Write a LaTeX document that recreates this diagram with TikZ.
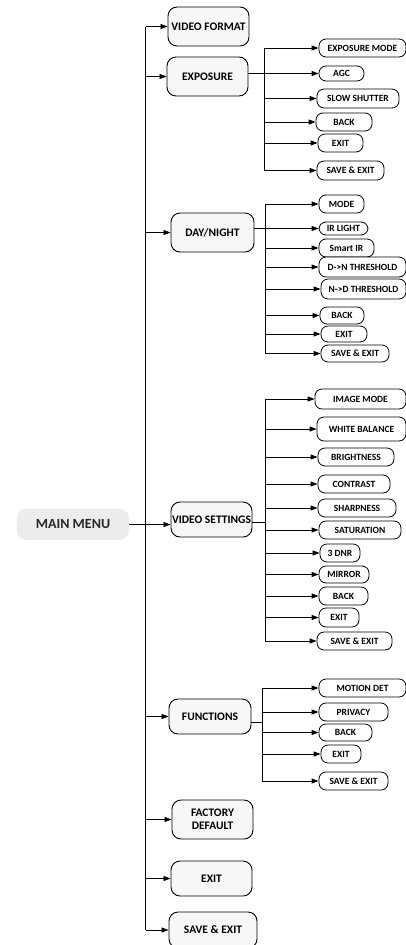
\documentclass[tikz,border=0pt]{standalone}
\usepackage{fontspec}
\setmainfont{Carlito}
\usetikzlibrary{arrows.meta}
\tikzset{
  mainbox/.style={draw=black, line width=0.9pt, fill=gray!6, rounded corners=9pt, inner sep=0pt, align=center, font=\fontsize{11.5}{13}\selectfont\bfseries},
  subbox/.style={draw=black, line width=0.8pt, fill=white, rounded corners=7pt, inner sep=0pt, font=\fontsize{9.5}{10}\selectfont\bfseries},
  menubox/.style={fill=gray!15, rounded corners=9pt, inner sep=0pt, font=\fontsize{14}{16}\selectfont\bfseries, text=black!85},
  arr/.style={-{Triangle[length=7pt,width=5pt]}, line width=0.8pt},
  ln/.style={line width=0.8pt}
}
\begin{document}
\begin{tikzpicture}[x=1pt,y=-1pt]
\useasboundingbox (0,0) rectangle (406,945);
% main menu
\node[menubox, minimum width=112pt, minimum height=31pt] (mm) at (73,524.5) {MAIN MENU};
% main column
\node[mainbox, minimum width=81pt, minimum height=39pt] (vf) at (208.5,26.5) {VIDEO FORMAT};
\node[mainbox, minimum width=81pt, minimum height=39pt] (exp) at (207.5,76.5) {EXPOSURE};
\node[mainbox, minimum width=83pt, minimum height=39pt] (dn) at (212.5,232.5) {DAY/NIGHT};
\node[mainbox, minimum width=81pt, minimum height=35pt] (vs) at (211.5,519.5) {VIDEO SETTINGS};
\node[mainbox, minimum width=82pt, minimum height=35pt] (fn) at (210,716.5) {FUNCTIONS};
\node[mainbox, minimum width=81pt, minimum height=39pt] (fd) at (212.5,819.5) {FACTORY\\DEFAULT};
\node[mainbox, minimum width=81pt, minimum height=35pt] (ex) at (211.5,878.5) {EXIT};
\node[mainbox, minimum width=88pt, minimum height=36pt] (se) at (213,930) {SAVE \& EXIT};
\coordinate (tr) at (145.5,0);
\draw[ln] (tr |- vf.west) -- (tr |- se.west);
\foreach \n in {vf,exp,dn,fn,fd,ex,se} {\draw[arr] (tr |- \n.west) -- (\n.west);}
\draw[arr] (mm.east) -- (mm.east -| vs.west);
% exposure subs
\node[subbox, minimum width=87pt, minimum height=18pt] (e1) at (362.5,48) {EXPOSURE MODE};
\node[subbox, minimum width=45pt, minimum height=15pt] (e2) at (341.5,73.5) {AGC};
\node[subbox, minimum width=82pt, minimum height=19pt] (e3) at (358,98.5) {SLOW SHUTTER};
\node[subbox, minimum width=56pt, minimum height=18pt] (e4) at (344,122) {BACK};
\node[subbox, minimum width=45pt, minimum height=18pt] (e5) at (340.5,143) {EXIT};
\node[subbox, minimum width=67pt, minimum height=19pt] (e6) at (350.5,170.5) {SAVE \& EXIT};
\coordinate (te) at (264,0);
\draw[ln] (te |- e1.west) -- (te |- e6.west);
\draw[arr] (exp.east |- e2.west) -- (e2.west);
\foreach \n in {e1,e3,e4,e5,e6} {\draw[arr] (te |- \n.west) -- (\n.west);}
% day/night subs
\node[subbox, minimum width=45pt, minimum height=18pt] (d1) at (341.5,204) {MODE};
\node[subbox, minimum width=49pt, minimum height=13pt] (d2) at (343.5,228.5) {IR LIGHT};
\node[subbox, minimum width=55pt, minimum height=18pt] (d3) at (346.5,248) {Smart IR};
\node[subbox, minimum width=87pt, minimum height=20pt] (d4) at (362.5,267) {D->N THRESHOLD};
\node[subbox, minimum width=85pt, minimum height=20pt] (d5) at (363.5,289) {N->D THRESHOLD};
\node[subbox, minimum width=44pt, minimum height=17pt] (d6) at (342,315.5) {BACK};
\node[subbox, minimum width=46pt, minimum height=16pt] (d7) at (344,334) {EXIT};
\node[subbox, minimum width=68pt, minimum height=17pt] (d8) at (355,353.5) {SAVE \& EXIT};
\coordinate (td) at (265,0);
\draw[ln] (td |- d1.west) -- (td |- d8.west);
\draw[arr] (dn.east |- d2.west) -- (d2.west);
\foreach \n in {d1,d3,d4,d5,d6,d7,d8} {\draw[arr] (td |- \n.west) -- (\n.west);}
% video settings subs
\node[subbox, minimum width=91pt, minimum height=20pt] (v1) at (360.5,399) {IMAGE MODE};
\node[subbox, minimum width=89pt, minimum height=24pt] (v2) at (361.5,429) {WHITE BALANCE};
\node[subbox, minimum width=76pt, minimum height=18pt] (v3) at (356,457) {BRIGHTNESS};
\node[subbox, minimum width=72pt, minimum height=18pt] (v4) at (354,484) {CONTRAST};
\node[subbox, minimum width=78pt, minimum height=18pt] (v5) at (357,508) {SHARPNESS};
\node[subbox, minimum width=82pt, minimum height=18pt] (v6) at (360,530) {SATURATION};
\node[subbox, minimum width=40pt, minimum height=18pt] (v7) at (340,553) {3 DNR};
\node[subbox, minimum width=50pt, minimum height=17pt] (v8) at (344,574.5) {MIRROR};
\node[subbox, minimum width=49pt, minimum height=18pt] (v9) at (343.5,596) {BACK};
\node[subbox, minimum width=40pt, minimum height=19pt] (v10) at (339,617.5) {EXIT};
\node[subbox, minimum width=75pt, minimum height=18pt] (v11) at (354.5,641) {SAVE \& EXIT};
\coordinate (tv) at (265,0);
\draw[ln] (tv |- v1.west) -- (tv |- v11.west);
\draw[ln] (vs.east |- 0,522) -- (tv |- 0,522);
\foreach \n in {v1,v2,v3,v4,v5,v6,v7,v8,v9,v10,v11} {\draw[arr] (tv |- \n.west) -- (\n.west);}
% functions subs
\node[subbox, minimum width=87pt, minimum height=18pt] (f1) at (362.5,688) {MOTION DET};
\node[subbox, minimum width=69pt, minimum height=18pt] (f2) at (353.5,712) {PRIVACY};
\node[subbox, minimum width=53pt, minimum height=17pt] (f3) at (345.5,732.5) {BACK};
\node[subbox, minimum width=40pt, minimum height=18pt] (f4) at (341,754) {EXIT};
\node[subbox, minimum width=69pt, minimum height=18pt] (f5) at (353.5,781) {SAVE \& EXIT};
\coordinate (tf) at (262,0);
\draw[ln] (tf |- f1.west) -- (tf |- f5.west);
\draw[ln] (fn.east |- 0,722) -- (tf |- 0,722);
\foreach \n in {f1,f2,f3,f4,f5} {\draw[arr] (tf |- \n.west) -- (\n.west);}
\end{tikzpicture}
\end{document}
